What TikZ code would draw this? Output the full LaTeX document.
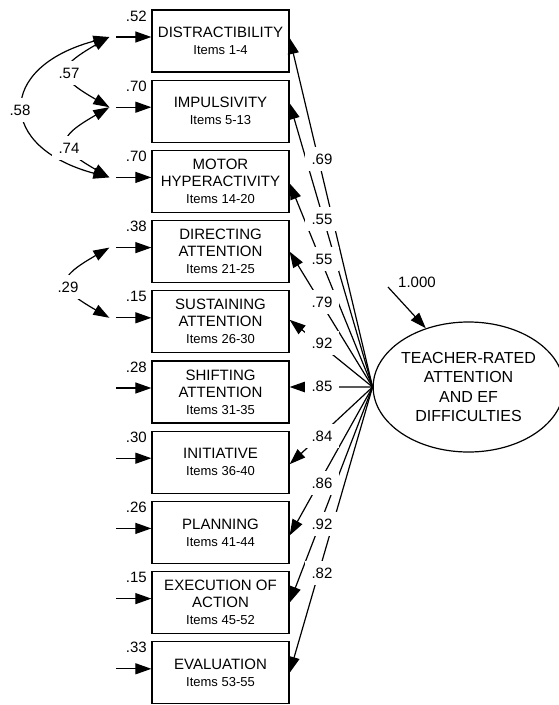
\documentclass[tikz,border=0pt]{standalone}
\usepackage{fontspec}
\setmainfont{Liberation Sans}
\usetikzlibrary{arrows.meta,shapes.geometric,calc}

\newcommand{\itm}[1]{{\fontsize{13}{17}\selectfont #1}}

\tikzset{
	fact/.style={draw, line width=1.3pt, minimum width=137pt, minimum height=62pt, inner sep=0pt, align=center, font=\fontsize{15}{17}\selectfont},
	latent/.style={draw, ellipse, line width=1.2pt, minimum width=179pt, minimum height=130pt, inner sep=0pt, align=center, font=\fontsize{16}{19.5}\selectfont},
	arw/.style={line width=1.2pt, -{Triangle[length=16pt,width=11pt]}},
	dbl/.style={line width=1.2pt, {Triangle[length=16pt,width=11pt]}-{Triangle[length=16pt,width=11pt]}},
	coef/.style={fill=white, inner sep=7pt, font=\fontsize{15}{15}\selectfont},
	resid/.style={inner sep=1pt, font=\fontsize{15}{15}\selectfont}
}

\begin{document}
\begin{tikzpicture}[x=1pt,y=-1pt]
	\useasboundingbox (0,0) rectangle (558,705);

	% observed scales
	\foreach \i/\txt/\r in {1/{DISTRACTIBILITY\\\itm{Items 1-4}}/.52,
		2/{IMPULSIVITY\\\itm{Items 5-13}}/.70,
		3/{MOTOR\\HYPERACTIVITY\\\itm{Items 14-20}}/.70,
		4/{DIRECTING\\ATTENTION\\\itm{Items 21-25}}/.38,
		5/{SUSTAINING\\ATTENTION\\\itm{Items 26-30}}/.15,
		6/{SHIFTING\\ATTENTION\\\itm{Items 31-35}}/.28,
		7/{INITIATIVE\\\itm{Items 36-40}}/.30,
		8/{PLANNING\\\itm{Items 41-44}}/.26,
		9/{EXECUTION OF\\ACTION\\\itm{Items 45-52}}/.15,
		10/{EVALUATION\\\itm{Items 53-55}}/.33}
	{
		\node[fact] (b\i) at (220.5,{41+70.2*(\i-1)}) {\txt};
		\coordinate (e\i) at ($(b\i.west)+(-35,-4)$);
		\coordinate (c\i) at ($(e\i)+(-7,0)$);
		\draw[arw] (e\i) -- (e\i -| b\i.west);
		\node[resid] (r\i) at ($(b\i.west)+(-15,-25)$) {\r};
	}

	% latent factor
	\node[latent] (F) at (468.5,387) {TEACHER-RATED\\ATTENTION\\AND EF\\DIFFICULTIES};
	\coordinate (u) at (388,287);
	\draw[arw] (u) -- (F.126);
	\node[resid] (ul) at (417,282) {1.000};

	% loadings
	\foreach \i/\dy in {1/-3,2/-8,3/2,4/0,5/-2,6/-5,7/2,8/3,9/0,10/0}
		\draw[arw] (F.west) -- ($(b\i.east)+(0,\dy)$);
	\foreach \y/\v [count=\i] in {159/.69,219/.55,259/.55,302/.79,343/.92,386/.85,436/.84,483/.86,524/.92,573/.82}
		\node[coef] (l\i) at (322,\y) {\v};

	% error correlations
	\draw[dbl] (c1) .. controls +(165:117) and +(195:117) .. (c3);
	\draw[dbl] (c1) .. controls +(150:62) and +(210:62) .. (c2);
	\draw[dbl] (c2) .. controls +(150:62) and +(210:62) .. (c3);
	\draw[dbl] (c4) .. controls +(150:62) and +(210:62) .. (c5);
	\node[coef] (k1) at (20,110) {.58};
	\node[coef] (k2) at (69,73) {.57};
	\node[coef] (k3) at (69,148) {.74};
	\node[coef] (k4) at (68,287) {.29};
\end{tikzpicture}
\end{document}
